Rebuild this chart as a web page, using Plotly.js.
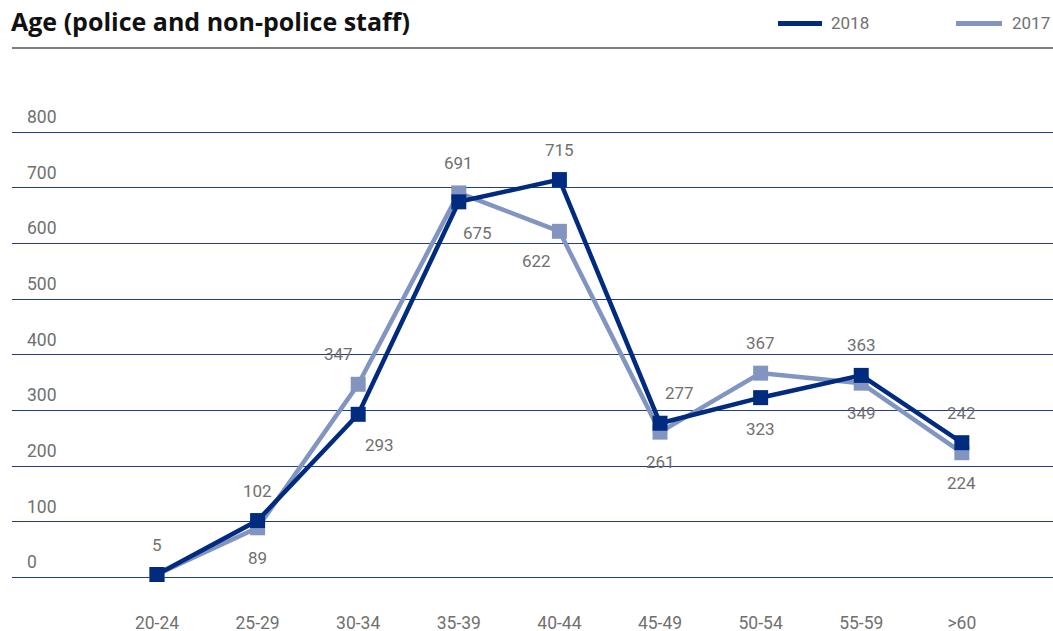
<!DOCTYPE html>
<html><head><meta charset="utf-8">
<script src="https://cdn.plot.ly/plotly-3.0.1.min.js"></script>
<style>html,body{margin:0;padding:0;background:#fff}#chart{width:1053px;height:631px}</style>
</head><body><div id="chart"></div>
<script>
const categories = ['20-24','25-29','30-34','35-39','40-44','45-49','50-54','55-59','>60'];
const values2018 = [5, 102, 293, 675, 715, 277, 323, 363, 242];
const values2017 = [5, 89, 347, 691, 622, 261, 367, 349, 224];
const seriesNames = ['2018', '2017'];
const yTicks = [0, 100, 200, 300, 400, 500, 600, 700, 800];

const C2018 = '#002b7f';
const C2017 = '#8195c0';
const TXT = '#707070';
const FONT = 'Roboto, "Liberation Sans", sans-serif';

const W = 1053, H = 631;
const mL = 12, mR = 0, mT = 60, mB = 21;
const plotW = W - mL - mR, plotH = H - mT - mB;
const px2x = p => (p - mL) / plotW;
const px2y = p => (H - mB - p) / plotH;

const traces = [
  {x: categories, y: values2017, name: seriesNames[1], mode: 'lines+markers', type: 'scatter',
   line: {color: C2017, width: 4.5}, marker: {symbol: 'square', size: 15, color: C2017}, showlegend: false, hoverinfo: 'skip'},
  {x: categories, y: values2018, name: seriesNames[0], mode: 'lines+markers', type: 'scatter',
   line: {color: C2018, width: 4.5}, marker: {symbol: 'square', size: 15, color: C2018}, showlegend: false, hoverinfo: 'skip'}
];

// horizontal nudges of labels that would otherwise sit on a line (pixel offsets, style only)
const nudge2018 = {2: 21, 3: 19, 5: 19};
const nudge2017 = {2: -20, 4: -23};

const annotations = [];
categories.forEach((c, i) => {
  const a = values2018[i], b = values2017[i];
  annotations.push({x: c, y: a, xref: 'x', yref: 'y', text: String(a), showarrow: false,
    xshift: nudge2018[i] || 0, yshift: a >= b ? 30 : -31, font: {family: FONT, size: 17, color: TXT}});
  if (b !== a) {
    annotations.push({x: c, y: b, xref: 'x', yref: 'y', text: String(b), showarrow: false,
      xshift: nudge2017[i] || 0, yshift: b > a ? 30 : -30, font: {family: FONT, size: 17, color: TXT}});
  }
});

// legend
const legendItems = [
  {name: seriesNames[0], color: C2018, x0: 778, x1: 822, tx: 829},
  {name: seriesNames[1], color: C2017, x0: 956, x1: 1002, tx: 1010}
];
const shapes = [
  {type: 'line', xref: 'paper', yref: 'paper', x0: 0, x1: 1, y0: px2y(48), y1: px2y(48),
   line: {color: '#555555', width: 1.5}}
];
legendItems.forEach(l => {
  shapes.push({type: 'line', xref: 'paper', yref: 'paper', x0: px2x(l.x0), x1: px2x(l.x1),
    y0: px2y(23.5), y1: px2y(23.5), line: {color: l.color, width: 5}});
  annotations.push({xref: 'paper', yref: 'paper', x: px2x(l.tx), y: px2y(23.5), xanchor: 'left', yanchor: 'middle',
    text: l.name, showarrow: false, font: {family: FONT, size: 17, color: TXT}});
});

const yPerPx = 800 / (577.3 - 132.3);
const layout = {
  width: W, height: H,
  margin: {l: mL, r: mR, t: mT, b: mB, pad: 0},
  paper_bgcolor: '#fff', plot_bgcolor: '#fff',
  title: {text: 'Age (police and non-police staff)', x: 11 / W, xref: 'container', xanchor: 'left',
    y: 1 - 22 / H, yref: 'container', yanchor: 'middle',
    font: {family: '"Open Sans", Roboto, sans-serif', size: 25, color: '#111', weight: 'bold'}},
  xaxis: {type: 'category', range: [-1.441, 8.906], showgrid: false, zeroline: false, showline: false,
    ticks: '', tickfont: {family: FONT, size: 17.5, color: TXT}, fixedrange: true},
  yaxis: {range: [-(610 - 577.3) * yPerPx, (577.3 - 60) * yPerPx], tickvals: yTicks, ticktext: yTicks.map(String),
    showgrid: true, gridcolor: '#1f3d88', gridwidth: 1, zeroline: false, showline: false, ticks: '',
    ticklabelposition: 'inside top', ticklabelstandoff: 12, ticklabelshift: -3,
    tickfont: {family: FONT, size: 17.5, color: TXT}, fixedrange: true},
  showlegend: false,
  annotations: annotations,
  shapes: shapes,
  hovermode: false
};

Plotly.newPlot('chart', traces, layout, {displayModeBar: false, staticPlot: true});
</script>
</body></html>
